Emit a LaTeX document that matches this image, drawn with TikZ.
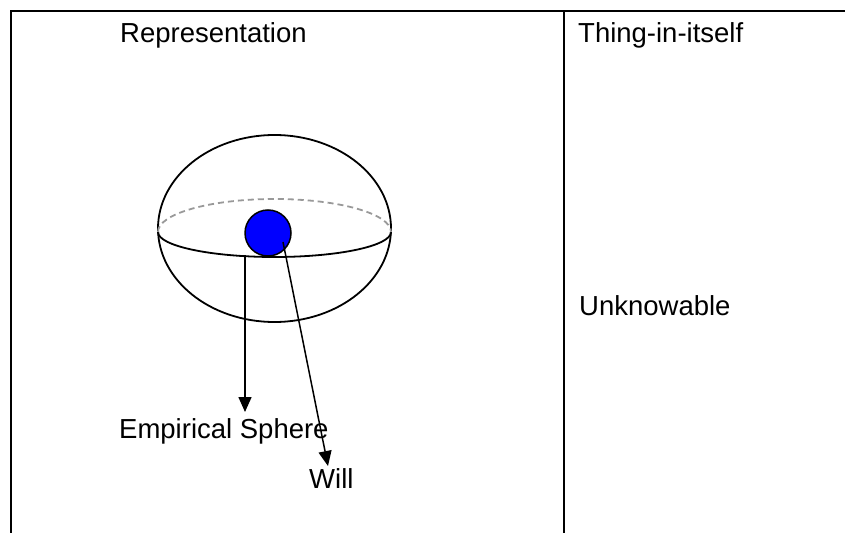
\documentclass[tikz,border=0pt]{standalone}
\usepackage{fontspec}
\setmainfont{Liberation Sans}
\usetikzlibrary{arrows.meta}
\begin{document}
\begin{tikzpicture}[x=1pt,y=1pt,
  label/.style={anchor=base west,inner sep=0pt,font=\fontsize{27.5}{32}\selectfont},
  border/.style={line width=2.2pt},
  sph/.style={line width=1.8pt},
  conn/.style={line width=1.5pt,-{Triangle[length=15pt,width=13pt]}}]
\useasboundingbox (0,0) rectangle (845,533);
% table lines
\draw[border] (845,522) -- (11,522) -- (11,0);
\draw[border] (564,522) -- (564,0);
% headers
\node[label] (rep) at (120,490) {Representation};
\node[label] (thing) at (578,490) {Thing-in-itself};
\node[label] (unk) at (579,217) {Unknowable};
% sphere
\draw[sph] (274.5,304.5) ellipse [x radius=116.5pt, y radius=93.5pt];
\draw[sph] (158,301) arc [start angle=180, end angle=360, x radius=116.5pt, y radius=25pt];
\draw[line width=1.8pt, gray!80, dash pattern=on 6pt off 4pt] (158,301) arc [start angle=180, end angle=0, x radius=116.5pt, y radius=33pt];
\node[circle, draw=black, line width=1.5pt, fill={rgb,255:red,0;green,0;blue,255}, minimum size=46pt, inner sep=0pt] (ball) at (268,300) {};
% labels
\node[label] (emp) at (119,95) {Empirical Sphere};
\node[label] (will) at (309,45) {Will};
% connectors
\coordinate (s1) at (245,278);
\coordinate (t1) at (245,121);
\coordinate (s2) at (283,291);
\coordinate (t2) at (328,67);
\draw[conn] (s1) -- (t1);
\draw[conn] (s2) -- (t2);
\end{tikzpicture}
\end{document}
